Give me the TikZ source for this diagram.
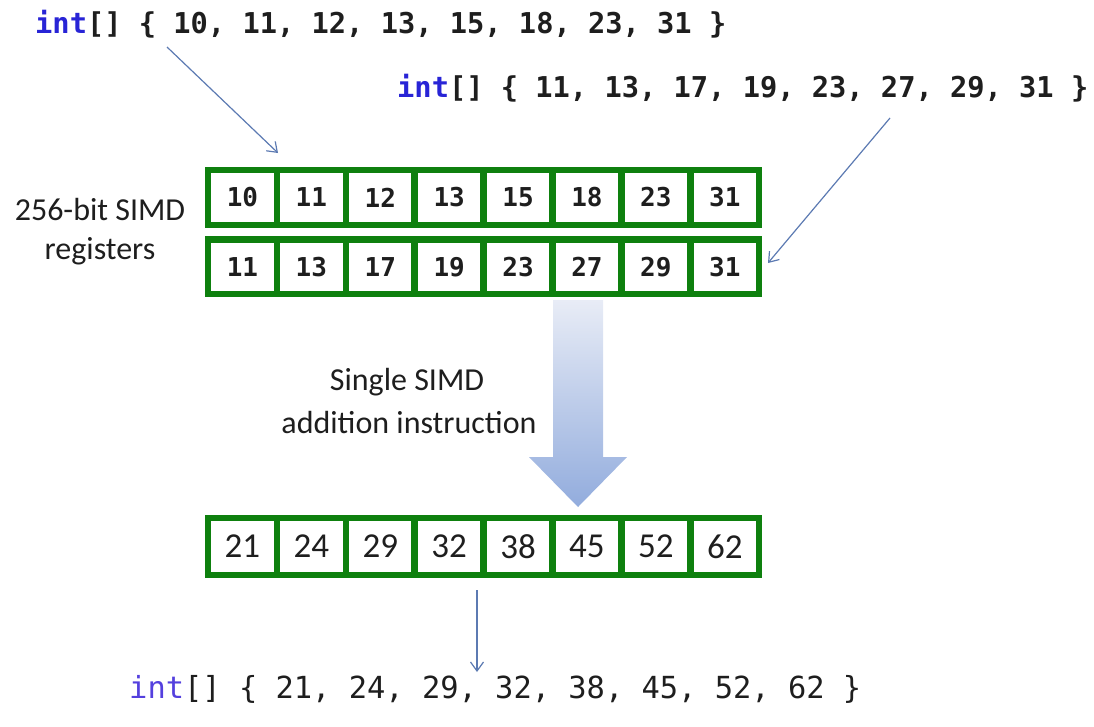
\documentclass[tikz,border=0pt]{standalone}
\usepackage{fontspec}
\newfontfamily\codefont{DejaVu Sans Mono}
\newfontfamily\labelfont{Carlito}
\usetikzlibrary{arrows.meta}
\definecolor{regGreen}{RGB}{14,128,14}
\definecolor{kwBlue}{RGB}{40,36,214}
\definecolor{kwBlueLight}{RGB}{84,64,222}
\definecolor{codeInk}{RGB}{30,30,30}
\definecolor{linkBlue}{RGB}{92,122,178}
\definecolor{arrowTop}{RGB}{232,236,246}
\definecolor{arrowBot}{RGB}{146,172,221}
\frenchspacing
\begin{document}
\begin{tikzpicture}[x=1pt,y=-1pt,
  cellbox/.style={draw=regGreen, line width=6.5pt, minimum width=68.9pt,
    inner sep=0pt, text=codeInk},
  inA/.style={cellbox, minimum height=55pt,
    font=\codefont\bfseries\fontsize{26}{26}\selectfont},
  outA/.style={cellbox, minimum height=57pt,
    font=\labelfont\fontsize{35}{35}\selectfont},
  srccode/.style={anchor=base west, inner sep=0pt, text=codeInk,
    font=\codefont\bfseries\fontsize{28.7}{28.7}\selectfont},
  rescode/.style={anchor=base west, inner sep=0pt, text=codeInk,
    font=\codefont\fontsize{30.4}{30.4}\selectfont},
  caption/.style={anchor=base, inner sep=0pt, text=codeInk,
    font=\labelfont\fontsize{32}{32}\selectfont},
  link/.style={draw=linkBlue, line width=1.2pt,
    -{Straight Barb[length=9pt,width=13pt,line width=1.2pt]}}]

\useasboundingbox (0,0) rectangle (1094,726);

% source arrays
\node[srccode] (srcA) at (35,33)
  {\textcolor{kwBlue}{int}[] \{ 10, 11, 12, 13, 15, 18, 23, 31 \}};
\node[srccode] (srcB) at (397,97)
  {\textcolor{kwBlue}{int}[] \{ 11, 13, 17, 19, 23, 27, 29, 31 \}};

% register label
\node[caption] (lblA) at (100,220) {256-bit SIMD};
\node[caption] (lblB) at (100,259) {registers};

% input registers
\foreach \v [count=\i from 0] in {10,11,12,13,15,18,23,31}
  \node[inA] (ra\i) at (242.45+68.9*\i,197.5) {\v};
\foreach \v [count=\i from 0] in {11,13,17,19,23,27,29,31}
  \node[inA, minimum height=54.5pt] (rb\i) at (242.45+68.9*\i,266.75) {\v};

% result register
\foreach \v [count=\i from 0] in {21,24,29,32,38,45,52,62}
  \node[outA] (rc\i) at (242.45+68.9*\i,546.5) {\v};

% the addition step
\shade[top color=arrowTop, bottom color=arrowBot]
  (553,300) -- (603,300) -- (603,457) -- (627,457) -- (578,507)
  -- (529,457) -- (553,457) -- cycle;
\node[caption] (opA) at (407,390) {Single SIMD};
\node[caption] (opB) at (409,433) {addition instruction};

% result array
\node[rescode] (res) at (129,698)
  {\textcolor{kwBlueLight}{int}[] \{ 21, 24, 29, 32, 38, 45, 52, 62 \}};

% loading and storing
\coordinate (fromA) at (167,47);
\coordinate (intoA) at (278,153);
\coordinate (fromB) at (890,118);
\coordinate (intoB) at (768,263);
\coordinate (fromC) at (477,590);
\coordinate (intoC) at (477,672);
\draw[link] (fromA) -- (intoA);
\draw[link] (fromB) -- (intoB);
\draw[link] (fromC) -- (intoC);
\end{tikzpicture}
\end{document}
